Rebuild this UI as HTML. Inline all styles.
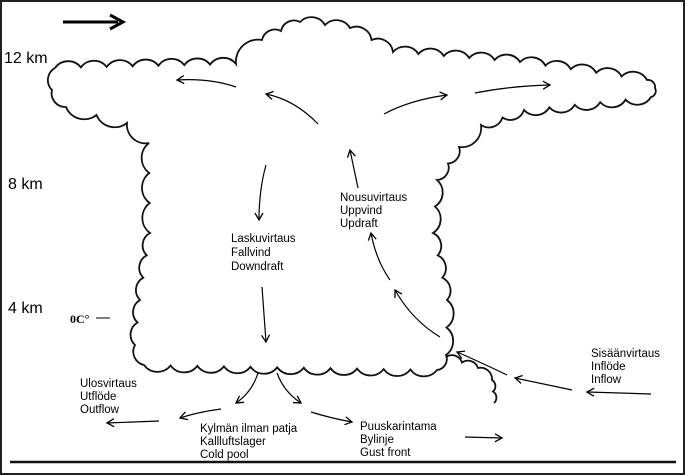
<!DOCTYPE html>
<html><head><meta charset="utf-8"><style>
html,body{margin:0;padding:0;background:#fff}
svg{display:block}
text{font-family:"Liberation Sans",sans-serif;font-size:11.5px;fill:#000}
</style></head><body>
<svg id="s" width="685" height="475" viewBox="0 0 685 475" xmlns="http://www.w3.org/2000/svg">
<defs><marker id="h" markerWidth="10" markerHeight="10" refX="8" refY="5" orient="auto" markerUnits="userSpaceOnUse"><path d="M1,1 L8,5 L1,9" fill="none" stroke="#000" stroke-width="1.3"/></marker></defs>
<rect x="1" y="1" width="683" height="473" fill="#fff" stroke="#222" stroke-width="2"/>
<line x1="10" y1="462" x2="676" y2="462" stroke="#111" stroke-width="2.5"/>
<line x1="63" y1="22" x2="118" y2="22" stroke="#000" stroke-width="3"/>
<path d="M110,15 L123,22 L110,29" fill="none" stroke="#000" stroke-width="3"/>
<g id="cloud" fill="none" stroke="#111" stroke-width="1.8"></g>
<g fill="none" stroke="#000" stroke-width="1.2" marker-end="url(#h)">
<path d="M236,87 Q210,78 177,80"/>
<path d="M318,124 Q295,100 266,94"/>
<path d="M384,114 Q410,100 447,95"/>
<path d="M475,93 Q510,86 550,85"/>
<path d="M266,165 Q259,190 259,220"/>
<path d="M358,188 L350,150"/>
<path d="M390,280 Q376,260 371,233"/>
<path d="M440,337 Q412,320 395,290"/>
<path d="M262,287 L266,342"/>
<path d="M258,373 Q252,392 236,403"/>
<path d="M277,373 Q284,392 301,403"/>
<path d="M221,409 Q198,412 180,418"/>
<path d="M159,421 L107,423"/>
<path d="M311,412 Q330,418 352,422"/>
<path d="M465,437 L502,438"/>
<path d="M507,375 Q480,362 457,352"/>
<path d="M572,390 L515,378"/>
<path d="M651,394 L587,392"/>
</g>
<text x="4" y="63" style="font-size:16px">12 km</text>
<text x="8" y="189" style="font-size:16px">8 km</text>
<text x="8" y="313" style="font-size:16px">4 km</text>
<text x="70" y="323" style="font-family:'Liberation Serif',serif;font-weight:bold;font-size:12px">0C°</text>
<line x1="96" y1="318" x2="110" y2="318" stroke="#000" stroke-width="1"/>
<text x="231" y="242">Laskuvirtaus</text><text x="231" y="256">Fallvind</text><text x="231" y="270">Downdraft</text>
<text x="340" y="201">Nousuvirtaus</text><text x="340" y="214">Uppvind</text><text x="340" y="227">Updraft</text>
<text x="80" y="387">Ulosvirtaus</text><text x="80" y="400">Utflöde</text><text x="80" y="413">Outflow</text>
<text x="200" y="432">Kylmän ilman patja</text><text x="200" y="445">Kallluftslager</text><text x="200" y="458">Cold pool</text>
<text x="360" y="430">Puuskarintama</text><text x="360" y="443">Bylinje</text><text x="360" y="456">Gust front</text>
<text x="591" y="357">Sisäänvirtaus</text><text x="591" y="370">Inflöde</text><text x="591" y="383">Inflow</text>
</svg>
<script>
(function(){
var pts=[[55,68],[236,64],[262,40],[300,22],[350,28],[393,52],[520,62],[647,80],[655,88],[651,97],[524,110],[481,125],[459,147],[437,180],[433,233],[447,300],[446,355],[437,370],[144,365],[135,345],[140,300],[150,233],[149,143],[127,123],[66,107],[52,90],[55,68]];
function scal(p,step){
 var d="M"+p[0][0]+","+p[0][1];
 for(var i=0;i<p.length-1;i++){
  var a=p[i],b=p[i+1],dx=b[0]-a[0],dy=b[1]-a[1],L=Math.hypot(dx,dy),n=Math.max(1,Math.round(L/step));
  var r=(L/n)/2*1.25;
  for(var k=1;k<=n;k++){var x=a[0]+dx*k/n,y=a[1]+dy*k/n;d+=" A"+r.toFixed(2)+","+r.toFixed(2)+" 0 0 1 "+x.toFixed(1)+","+y.toFixed(1);}
 }
 return d;
}
var g=document.getElementById("cloud");
function add(d){var e=document.createElementNS("http://www.w3.org/2000/svg","path");e.setAttribute("d",d);g.appendChild(e);}
add(scal(pts,26));
add(scal([[446,357],[478,368],[492,380],[494,403]],14));
})();
</script>
</body></html>
